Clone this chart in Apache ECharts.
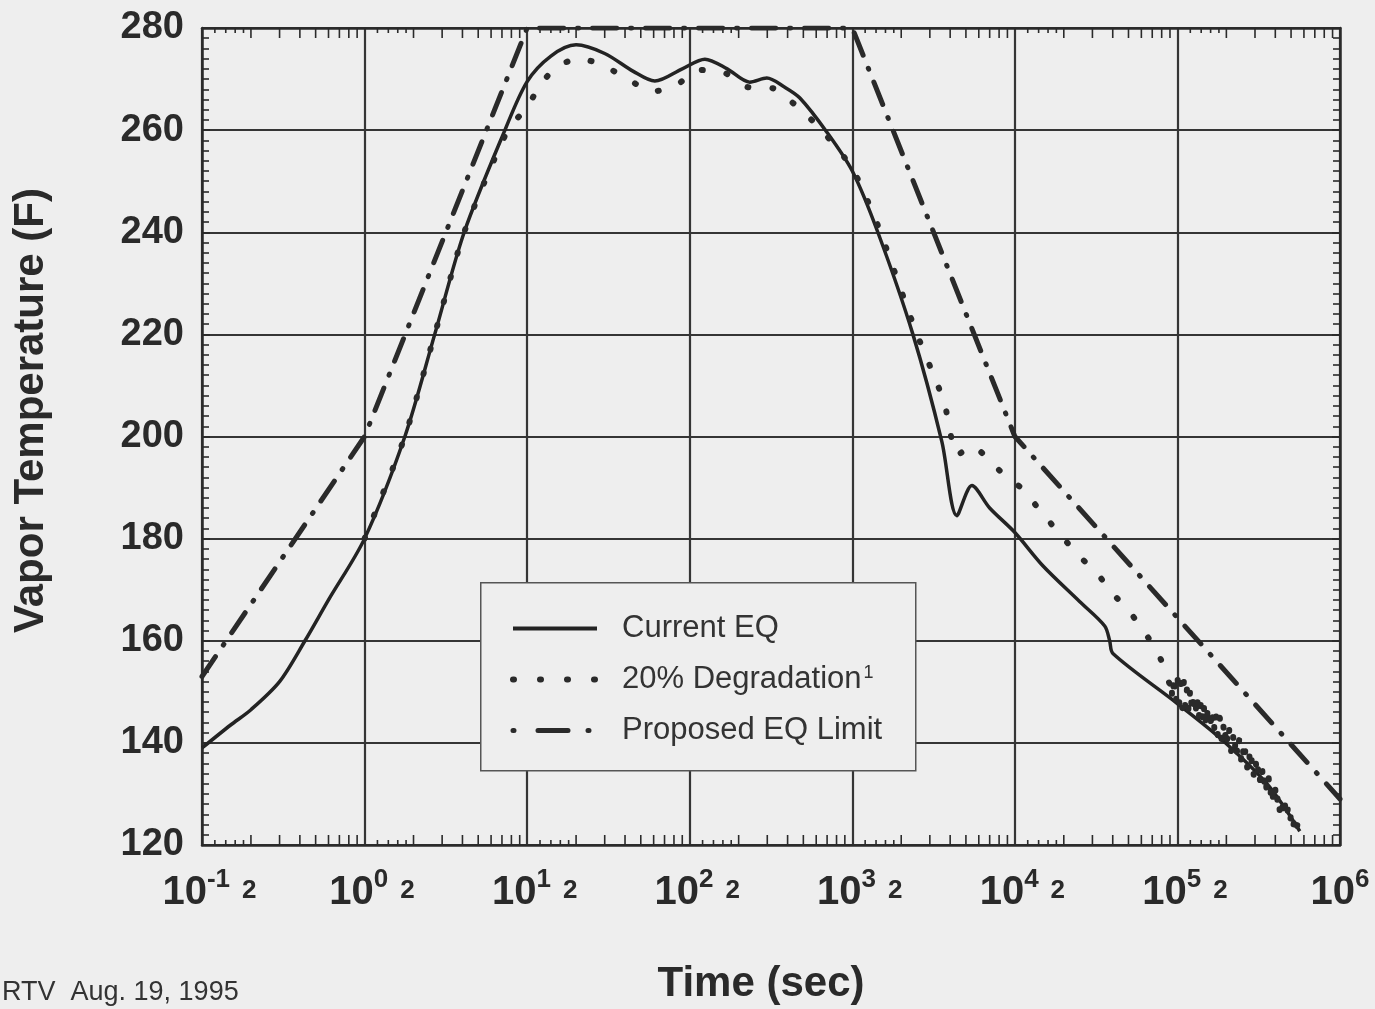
<!DOCTYPE html>
<html>
<head>
<meta charset="utf-8">
<script src="https://cdn.jsdelivr.net/npm/echarts@6/dist/echarts.min.js"></script>
<style>
  html, body { margin: 0; padding: 0; background: #eeeeee; }
  #chart { width: 1375px; height: 1009px; }
</style>
</head>
<body>
<div id="chart"></div>
<script>
// Vapor temperature (F) versus time (sec)
const currentEQ = [
  [0.1, 139], [0.15, 143.5], [0.2, 146.5], [0.3, 152], [0.43, 160], [0.6, 168],
  [1, 180], [1.77, 200], [2.7, 220], [4.1, 240], [7.3, 260], [10, 269.5],
  [14, 274.5], [20, 276.7], [30, 275], [45, 271.5], [61, 269.6], [90, 272],
  [124, 273.9], [170, 272], [234, 269.4], [298, 270.2], [380, 268.5], [476, 266.3],
  [698, 259.6], [1000, 252], [1436, 240], [2360, 220], [3556, 199], [4395, 184.5],
  [5445, 190.4], [7000, 186], [10000, 181.2], [14860, 174.7], [25000, 167.7],
  [35700, 162.9], [38300, 160], [40100, 157.5], [99000, 147.8], [182000, 141],
  [355000, 132], [566000, 122.7]
];

const degradation = [
  [1, 180], [1.77, 200], [2.7, 220], [4.1, 240], [7.6, 260], [10, 264.5],
  [12, 268.8], [15.2, 272.4], [21, 274.1], [30, 272.5], [41.7, 270], [58.5, 267.5],
  [83, 268.8], [112, 271.8], [165, 271.2], [228, 268.4], [324, 268.2], [462, 264.5],
  [631, 260.4], [1000, 252.5], [1450, 241], [2400, 221.5], [3300, 210.6],
  [3700, 206.5], [3980, 201.2], [4400, 196.3], [5445, 198.2], [6820, 195.7],
  [8430, 192.7], [11040, 189.8], [14650, 185.1], [19720, 180.2], [26180, 175.9],
  [31920, 173.3], [39520, 169.4], [48870, 166.3], [58750, 163], [72630, 158.6],
  [81300, 155.5], [89800, 151.6],
  // scattered late-time portion
  [91200, 153.0], [93300, 148.0], [95500, 153.6], [97700, 147.4], [100000, 152.8],
  [102300, 147.6], [104700, 152.2], [107200, 146.8], [109600, 152.0], [112200, 146.4],
  [114800, 151.0], [117500, 145.8], [120200, 151.2], [123000, 145.4], [125900, 150.2],
  [128800, 144.8], [131800, 149.8], [134900, 144.2], [138000, 148.8], [141300, 143.8],
  [144500, 148.4], [147900, 143.2], [151400, 147.6], [154900, 142.8], [158500, 147.0],
  [162200, 142.2], [166000, 146.4], [169800, 141.6], [173800, 145.8], [177800, 141.0],
  [182000, 145.0], [186200, 140.4], [190500, 144.4], [195000, 139.8], [199500, 143.6],
  [204200, 139.2], [208900, 142.8], [213800, 138.4], [218800, 142.2], [223900, 137.8],
  [229100, 141.4], [234400, 137.0], [239900, 140.6], [245500, 136.4], [251200, 140.0],
  [257000, 135.8], [263000, 139.2], [269200, 135.0], [275400, 138.4], [281800, 134.4],
  [288400, 137.6], [295100, 133.6], [302000, 137.0], [309000, 132.8], [316200, 136.2],
  [323600, 132.0], [331100, 135.2], [338800, 131.0], [346700, 134.4], [354800, 130.2],
  [363100, 133.4], [371500, 129.2], [380200, 132.4], [389000, 128.4], [398100, 131.4],
  [407400, 127.4], [416900, 130.4], [426600, 126.6], [436500, 129.2], [446700, 125.6],
  [457100, 128.2], [467700, 124.8], [478600, 127.2], [489800, 124.0], [501200, 126.2],
  [512900, 123.2], [524800, 125.2], [537000, 122.6], [549500, 124.2], [562300, 122.4]
];

const proposedLimit = [
  [0.1, 153], [1, 200], [10, 280], [1000, 280], [10000, 200], [1000000, 129]
];

const seriesNames = ['Current EQ', '20% Degradation', 'Proposed EQ Limit'];

// axis ranges and tick labels
const yMin = 120, yMax = 280, yStep = 20;
const xMin = 0.1, xMax = 1000000;
const decadeExponents = [-1, 0, 1, 2, 3, 4, 5, 6];

// logarithmic minor tick marks along the top and bottom frame: [time, tick length]
const minorLogTicks = [];
decadeExponents.slice(0, -1).forEach(e => {
  [1.2, 1.4, 1.6, 1.8].forEach(m => minorLogTicks.push([m * Math.pow(10, e), 5]));
  [2, 3, 4, 5, 6, 7, 8, 9].forEach(m => minorLogTicks.push([m * Math.pow(10, e), 10]));
});

const ink = '#2a2a2a';
const font = '"Liberation Sans", Arial, sans-serif';
const noMarker = { color: 'rgba(0,0,0,0)', borderColor: 'rgba(0,0,0,0)', borderWidth: 0 };

const chart = echarts.init(document.getElementById('chart'), null, { renderer: 'canvas' });

chart.setOption({
  backgroundColor: '#eeeeee',
  animation: false,
  textStyle: { fontFamily: font, color: ink },
  grid: { left: 202, right: 35, top: 28, bottom: 164, containLabel: false, outerBoundsMode: 'none' },
  xAxis: [
    {
      type: 'log', logBase: 10, min: xMin, max: xMax, position: 'bottom',
      axisLine: { show: true, lineStyle: { color: ink, width: 2.5 } },
      axisTick: { show: false },
      splitLine: { show: true, lineStyle: { color: '#353535', width: 2.2 } },
      axisLabel: {
        show: true, interval: 0, margin: 22, showMinLabel: true, showMaxLabel: true,
        formatter: v => {
          const e = Math.round(Math.log10(v));
          return e === 6 ? '{b|10}{s|' + e + '}' : '{p| }{b|10}{s|' + e + '}{g| }{t|2}';
        },
        rich: {
          b: { fontSize: 40, fontWeight: 'bold', color: ink, fontFamily: font, lineHeight: 46, verticalAlign: 'bottom' },
          s: { fontSize: 26, fontWeight: 'bold', color: ink, fontFamily: font, lineHeight: 26, verticalAlign: 'top' },
          t: { fontSize: 26, fontWeight: 'bold', color: ink, fontFamily: font, lineHeight: 30, verticalAlign: 'bottom', padding: [0, 0, 9, 0] },
          g: { width: 12 },
          p: { width: 15 }
        }
      },
      name: 'Time (sec)', nameLocation: 'middle', nameGap: 118,
      nameTextStyle: { fontSize: 42, fontWeight: 'bold', color: ink, fontFamily: font, padding: [0, 20, 0, 0] }
    },
    {
      type: 'log', logBase: 10, min: xMin, max: xMax, position: 'top',
      axisLine: { show: true, lineStyle: { color: ink, width: 2.5 } },
      axisTick: { show: false }, axisLabel: { show: false }, splitLine: { show: false }
    }
  ],
  yAxis: [
    {
      type: 'value', min: yMin, max: yMax, interval: yStep, position: 'left',
      axisLine: { show: true, lineStyle: { color: ink, width: 2.5 } },
      axisTick: { show: true, inside: true, length: 8, lineStyle: { color: ink, width: 1.6 } },
      minorTick: { show: true, splitNumber: 10, length: 7, lineStyle: { color: ink, width: 1.6 } },
      splitLine: { show: true, lineStyle: { color: '#353535', width: 2.2 } },
      axisLabel: { fontSize: 38, fontWeight: 'bold', color: ink, fontFamily: font, margin: 18, padding: [10, 0, 0, 0] },
      name: 'Vapor Temperature (F)', nameLocation: 'middle', nameGap: 150,
      nameTextStyle: { fontSize: 42, fontWeight: 'bold', color: ink, fontFamily: font, padding: [0, 0, 0, 52] }
    },
    {
      type: 'value', min: yMin, max: yMax, interval: yStep, position: 'right',
      axisLine: { show: true, lineStyle: { color: ink, width: 2.5 } },
      axisTick: { show: true, inside: true, length: 8, lineStyle: { color: ink, width: 1.6 } },
      minorTick: { show: true, splitNumber: 10, length: 7, lineStyle: { color: ink, width: 1.6 } },
      splitLine: { show: false }, axisLabel: { show: false }
    }
  ],
  legend: {
    show: true, orient: 'vertical', left: 510, top: 613, padding: 0,
    itemWidth: 84, itemHeight: 1, itemGap: 20,
    itemStyle: noMarker,
    data: [
      { name: seriesNames[0], itemStyle: noMarker, lineStyle: { type: 'solid', width: 4 } },
      { name: seriesNames[1], itemStyle: noMarker, lineStyle: { type: [1, 26], width: 6, cap: 'round' } },
      { name: seriesNames[2], itemStyle: noMarker, lineStyle: { type: [1, 24, 30, 20], width: 5, cap: 'round' } }
    ],
    formatter: name => name === seriesNames[1] ? '{n|' + name + '}{s|1}' : '{n|' + name + '}',
    textStyle: {
      fontSize: 31, color: '#333', fontFamily: font, lineHeight: 30, padding: [0, 0, 0, 20],
      rich: {
        n: { fontSize: 31, color: '#333', fontFamily: font, lineHeight: 30 },
        s: { fontSize: 18, color: '#333', fontFamily: font, lineHeight: 30, verticalAlign: 'top', padding: [0, 0, 12, 2] }
      }
    }
  },
  graphic: [
    {
      type: 'rect', left: 480, top: 582, z: 3,
      shape: { width: 435, height: 188 },
      style: { fill: '#eeeeee', stroke: '#555', lineWidth: 1.5 }
    },
    {
      type: 'text', left: 2, top: 979,
      style: { text: 'RTV  Aug. 19, 1995', font: '27px ' + font, fill: '#333' }
    }
  ],
  series: [
    {
      name: 'minor ticks', type: 'custom', silent: true, clip: false, z: 1,
      xAxisIndex: 0, yAxisIndex: 0, encode: { x: 0 },
      data: minorLogTicks,
      renderItem: (params, api) => {
        const v = api.value(0), len = api.value(1);
        const b = api.coord([v, yMin]);
        const t = api.coord([v, yMax]);
        return {
          type: 'group',
          children: [
            { type: 'line', shape: { x1: b[0], y1: b[1], x2: b[0], y2: b[1] - len }, style: { stroke: ink, lineWidth: 1.6 } },
            { type: 'line', shape: { x1: t[0], y1: t[1], x2: t[0], y2: t[1] + len }, style: { stroke: ink, lineWidth: 1.6 } }
          ]
        };
      }
    },
    {
      name: seriesNames[0], type: 'line', data: currentEQ, symbol: 'none', smooth: 0.3, z: 4,
      lineStyle: { color: '#232323', width: 3.5 }, itemStyle: { color: '#232323' }
    },
    {
      name: seriesNames[1], type: 'line', data: degradation, symbol: 'none', smooth: 0.2, z: 4,
      lineStyle: { color: '#2a2a2a', width: 6, type: [1, 24], cap: 'round' }, itemStyle: { color: '#2a2a2a' }
    },
    {
      name: seriesNames[2], type: 'line', data: proposedLimit, symbol: 'none', z: 4,
      lineStyle: { color: '#2a2a2a', width: 5, type: [24, 14, 1, 14], cap: 'round' }, itemStyle: { color: '#2a2a2a' }
    }
  ]
});
</script>
</body>
</html>
